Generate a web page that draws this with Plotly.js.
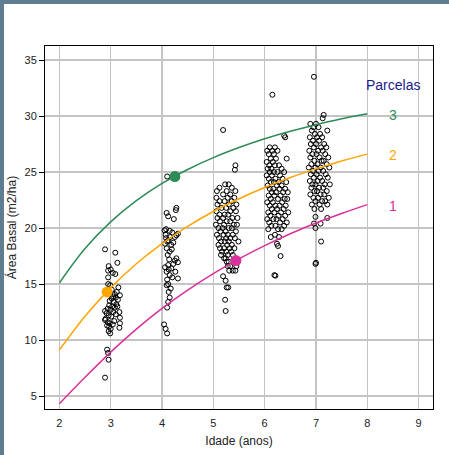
<!DOCTYPE html>
<html><head><meta charset="utf-8">
<script src="https://cdn.plot.ly/plotly-3.0.1.min.js"></script>
<style>
html,body{margin:0;padding:0;background:#5e7d91;width:449px;height:455px;overflow:hidden}
#chart{position:absolute;left:4px;top:4px;width:445px;height:451px;background:#fff}
</style></head><body><div id="chart"></div>
<script>
// Observed plots, [age, basal area]
const obsAge3 = [[2.89,18.1],[3.09,17.8],[3.13,16.9],[2.96,16.6],[3.0,16.3],[2.95,16.2],[3.04,16.0],[3.09,15.9],[2.95,15.6],[2.95,15.0],[2.93,14.4],[3.15,14.7],[3.18,14.0],[3.12,14.3],[3.08,14.1],[3.05,13.9],[3.1,13.8],[3.14,13.6],[3.02,13.7],[2.98,13.5],[3.06,13.4],[3.11,13.2],[2.97,13.1],[3.03,13.0],[3.08,12.9],[2.94,12.8],[3.0,12.7],[2.89,12.6],[2.92,12.4],[3.05,12.5],[3.17,12.5],[2.96,12.2],[3.01,12.1],[3.18,12.0],[2.9,11.9],[2.89,11.8],[2.94,11.6],[2.98,11.5],[3.18,11.5],[2.93,11.3],[2.97,11.2],[3.0,11.0],[3.17,11.1],[2.96,10.8],[2.99,10.6],[3.04,11.4],[3.07,11.7],[3.1,12.3],[3.13,13.0],[2.93,9.15],[2.95,8.85],[2.96,8.25],[2.89,6.65],[3.02,14.5],[2.99,14.9]];
const obsAge4 = [[4.10,24.6],[4.28,21.8],[4.27,21.6],[4.09,21.35],[4.12,21.05],[4.23,20.8],[4.05,19.8],[4.08,19.9],[4.15,19.75],[4.2,19.6],[4.31,19.5],[4.25,19.2],[4.28,19.35],[4.07,19.4],[4.12,18.9],[4.18,18.5],[4.22,18.7],[4.09,18.2],[4.06,18.6],[4.15,17.9],[4.11,17.6],[4.25,17.1],[4.31,16.95],[4.28,17.3],[4.12,16.7],[4.18,16.4],[4.22,16.8],[4.09,16.1],[4.13,16.3],[4.15,15.8],[4.2,15.6],[4.31,15.5],[4.1,15.4],[4.12,15.0],[4.09,14.9],[4.17,14.6],[4.13,14.3],[4.15,13.8],[4.12,13.4],[4.1,12.9],[4.04,11.4],[4.07,11.0],[4.1,10.6],[4.08,19.1],[4.1,18.8],[4.14,17.2],[4.06,16.5],[4.16,19.2],[4.19,18.1],[4.26,16.1]];
const obsAge5 = [[5.19,28.75],[5.43,25.6],[5.42,25.2],[5.23,23.9],[5.30,23.9],[5.36,23.6],[5.12,23.6],[5.07,23.3],[5.43,23.3],[5.26,23.3],[5.19,23.0],[5.33,23.0],[5.06,22.7],[5.41,22.7],[5.28,22.7],[5.12,22.4],[5.22,22.4],[5.36,22.4],[5.08,22.1],[5.30,22.1],[5.45,22.1],[5.16,21.8],[5.25,21.8],[5.39,21.8],[5.06,21.5],[5.33,21.5],[5.44,21.5],[5.12,21.2],[5.22,21.2],[5.29,21.2],[5.08,20.9],[5.19,20.9],[5.37,20.9],[5.47,20.9],[5.13,20.6],[5.26,20.6],[5.33,20.6],[5.05,20.3],[5.21,20.3],[5.40,20.3],[5.46,20.3],[5.10,20.0],[5.18,20.0],[5.30,20.0],[5.36,20.0],[5.14,19.7],[5.24,19.7],[5.44,19.7],[5.07,19.4],[5.20,19.4],[5.28,19.4],[5.38,19.4],[5.11,19.1],[5.25,19.1],[5.33,19.1],[5.42,19.1],[5.15,18.8],[5.22,18.8],[5.30,18.8],[5.49,18.8],[5.10,18.5],[5.27,18.5],[5.36,18.5],[5.13,18.2],[5.21,18.2],[5.32,18.2],[5.41,18.2],[5.17,17.9],[5.25,17.9],[5.35,17.9],[5.15,17.6],[5.28,17.6],[5.38,17.6],[5.21,17.3],[5.24,17.3],[5.26,17.0],[5.30,17.0],[5.28,16.6],[5.33,16.6],[5.45,16.6],[5.31,16.2],[5.43,16.2],[5.38,16.2],[5.19,15.7],[5.24,15.3],[5.26,14.7],[5.29,14.7],[5.23,13.6],[5.24,12.6]];
const obsAge6 = [[6.15,31.9],[6.38,28.25],[6.40,28.1],[6.10,27.2],[6.20,27.2],[6.05,26.9],[6.15,26.9],[6.25,26.9],[6.08,26.6],[6.18,26.6],[6.12,26.2],[6.43,26.2],[6.22,26.2],[6.04,25.9],[6.16,25.9],[6.09,25.6],[6.20,25.6],[6.28,25.6],[6.06,25.3],[6.13,25.3],[6.33,25.3],[6.10,25.0],[6.18,25.0],[6.25,25.0],[6.38,25.0],[6.04,24.7],[6.14,24.7],[6.30,24.7],[6.08,24.4],[6.21,24.4],[6.35,24.4],[6.12,24.1],[6.18,24.1],[6.27,24.1],[6.42,24.1],[6.06,23.8],[6.24,23.8],[6.33,23.8],[6.10,23.5],[6.17,23.5],[6.29,23.5],[6.40,23.5],[6.14,23.2],[6.22,23.2],[6.36,23.2],[6.45,23.2],[6.08,22.9],[6.19,22.9],[6.31,22.9],[6.12,22.6],[6.26,22.6],[6.39,22.6],[6.44,22.6],[6.05,22.3],[6.16,22.3],[6.34,22.3],[6.10,22.0],[6.21,22.0],[6.29,22.0],[6.41,22.0],[6.14,21.7],[6.24,21.7],[6.37,21.7],[6.07,21.4],[6.19,21.4],[6.32,21.4],[6.46,21.4],[6.11,21.1],[6.27,21.1],[6.40,21.1],[6.05,20.8],[6.17,20.8],[6.23,20.8],[6.35,20.8],[6.09,20.5],[6.30,20.5],[6.43,20.5],[6.13,20.2],[6.21,20.2],[6.38,20.2],[6.07,19.9],[6.26,19.9],[6.33,19.9],[6.20,19.4],[6.12,19.2],[6.28,19.2],[6.24,18.6],[6.26,18.4],[6.31,17.5],[6.19,15.8],[6.21,15.75]];
const obsAge7 = [[6.96,33.5],[7.15,30.1],[7.13,29.8],[6.89,29.3],[7.00,29.3],[6.95,29.0],[7.05,29.0],[7.22,28.7],[6.92,28.7],[6.98,28.4],[7.08,28.4],[6.88,28.1],[7.02,28.1],[7.12,28.1],[6.94,27.8],[7.06,27.8],[6.90,27.5],[7.00,27.5],[7.16,27.5],[6.96,27.2],[7.10,27.2],[7.20,27.2],[6.87,26.9],[7.04,26.9],[7.13,26.9],[6.93,26.6],[7.01,26.6],[7.18,26.6],[6.89,26.3],[7.07,26.3],[7.24,26.3],[6.97,26.0],[7.11,26.0],[7.15,26.0],[6.91,25.7],[7.03,25.7],[7.21,25.7],[6.86,25.4],[6.99,25.4],[7.09,25.4],[7.26,25.4],[6.94,25.1],[7.05,25.1],[7.14,25.1],[6.90,24.8],[7.01,24.8],[7.19,24.8],[6.96,24.5],[7.08,24.5],[7.23,24.5],[6.88,24.2],[7.03,24.2],[7.12,24.2],[6.93,23.9],[6.99,23.9],[7.17,23.9],[7.27,23.9],[6.91,23.6],[7.06,23.6],[7.14,23.6],[6.97,23.3],[7.02,23.3],[7.21,23.3],[6.89,23.0],[7.09,23.0],[7.16,23.0],[6.95,22.7],[7.04,22.7],[7.25,22.7],[6.99,22.4],[7.12,22.4],[7.18,22.4],[6.92,22.1],[7.07,22.1],[7.22,22.1],[6.97,21.7],[7.10,21.7],[6.99,21.0],[7.22,20.9],[7.09,20.4],[6.96,20.4],[6.99,20.0],[7.10,18.8],[6.99,16.8],[7.00,16.9]];

// Fitted curves
const curveAge = [2,2.5,3,3.5,4,4.5,5,5.5,6,6.5,7,7.5,8];
const curveParcela1 = [4.32,6.68,8.93,10.98,12.83,14.47,15.94,17.25,18.43,19.49,20.45,21.30,22.09];
const curveParcela2 = [9.10,12.12,14.66,16.81,18.61,20.15,21.48,22.62,23.62,24.51,25.28,25.99,26.60];
const curveParcela3 = [15.10,18.17,20.55,22.44,23.98,25.23,26.29,27.19,27.97,28.64,29.22,29.75,30.20];

// Highlighted plots
const highlightAge = [5.44, 2.93, 4.25];
const highlightBA = [17.1, 14.3, 24.6];

const parcelaLabels = ["1","2","3"];
const labelY = [22.0, 26.5, 30.1];
const colors = ["#d9309b","#ffa500","#2e8b57"];

const allObs = [].concat(obsAge3, obsAge4, obsAge5, obsAge6, obsAge7);
const traces = [
  {x: allObs.map(p=>p[0]), y: allObs.map(p=>p[1]), type:'scatter', mode:'markers',
   marker:{symbol:'circle-open', size:5, color:'#000', line:{width:1, color:'#000'}}, hoverinfo:'x+y'},
  {x: curveAge, y: curveParcela1, type:'scatter', mode:'lines', line:{color:colors[0], width:1.5, shape:'spline'}},
  {x: curveAge, y: curveParcela2, type:'scatter', mode:'lines', line:{color:colors[1], width:1.5, shape:'spline'}},
  {x: curveAge, y: curveParcela3, type:'scatter', mode:'lines', line:{color:colors[2], width:1.5, shape:'spline'}},
  {x: highlightAge, y: highlightBA, type:'scatter', mode:'markers', marker:{size:11, color:colors}}
];

const annotations = [{x:8.5, y:32.8, text:'Parcelas', showarrow:false, font:{family:'Liberation Sans, Arial, sans-serif', size:14, color:'#1c1c8a'}}];
parcelaLabels.forEach((t,i)=>annotations.push({x:8.5, y:labelY[i], text:t, showarrow:false, font:{family:'Liberation Sans, Arial, sans-serif', size:14, color:colors[i]}}));

const layout = {
  width:445, height:451,
  margin:{l:41, r:16, t:42, b:46},
  paper_bgcolor:'#fff', plot_bgcolor:'#fff',
  showlegend:false,
  font:{family:'Liberation Sans, Arial, sans-serif', size:11, color:'#222'},
  xaxis:{range:[1.72,9.28], tickvals:[2,3,4,5,6,7,8,9], showgrid:true, gridcolor:'#c4c4c4', gridwidth:1.5,
    zeroline:false, showline:true, linecolor:'#000', linewidth:1, mirror:true,
    ticks:'outside', ticklen:4, tickcolor:'rgba(0,0,0,0)',
    title:{text:'Idade (anos)', font:{size:12}, standoff:8}},
  yaxis:{range:[3.85,36.25], tickvals:[5,10,15,20,25,30,35], showgrid:true, gridcolor:'#c4c4c4', gridwidth:1.5,
    zeroline:false, showline:true, linecolor:'#000', linewidth:1, mirror:true,
    ticks:'outside', ticklen:5, tickcolor:'#000',
    title:{text:'Área Basal (m2/ha)', font:{size:12}, standoff:6}},
  annotations: annotations
};
Plotly.newPlot('chart', traces, layout, {displayModeBar:false, staticPlot:true});
</script></body></html>
